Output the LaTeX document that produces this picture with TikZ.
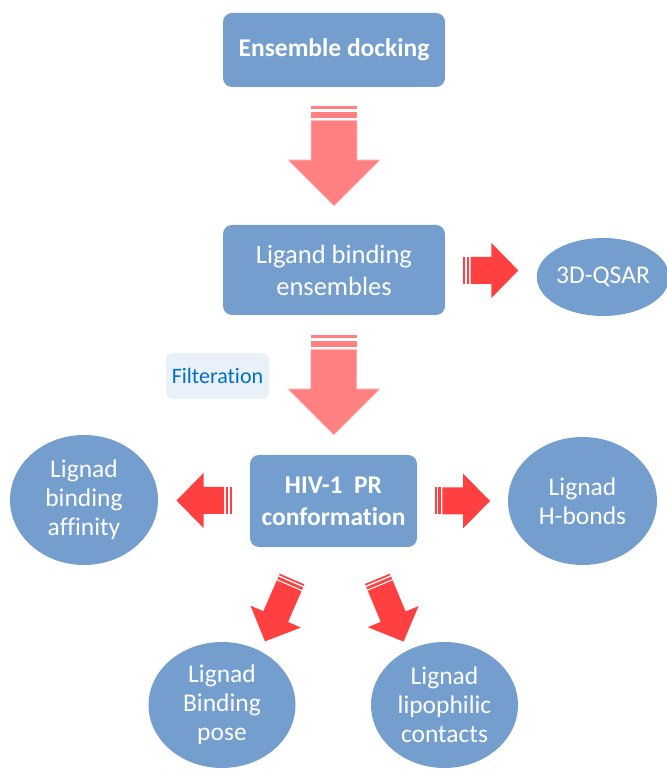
\documentclass[tikz,border=0pt]{standalone}
\usepackage{fontspec}
\setmainfont[Ligatures=NoCommon]{Carlito}
\usepackage{xcolor}
\usetikzlibrary{shapes, positioning, calc}

\definecolor{boxblue}{RGB}{116,158,206}
\definecolor{pinkred}{RGB}{255,128,128}
\definecolor{brightred}{RGB}{255,64,64}
\definecolor{filterfill}{RGB}{233,240,248}
\definecolor{filtertext}{RGB}{0,112,192}

\tikzset{
	stage/.style={rectangle, rounded corners=9pt, fill=boxblue, text=white,
		inner sep=0pt, align=center, font=\fontsize{26.5}{32}\selectfont},
	result/.style={ellipse, fill=boxblue, text=white,
		inner sep=0pt, align=center, font=\fontsize{25.5}{29}\selectfont},
	%% grande seta rosa, centrada na origem, apontando para +x
	pics/bigarrow/.style={code={
		\fill[pinkred] (-50,-23) rectangle (-47.3,23);
		\fill[pinkred] (-44,-23) rectangle (-38.3,23);
		\filldraw[fill=pinkred, draw=pinkred!45!white, line width=0.6pt]
			(-35.7,-23) -- (4,-23) -- (4,-46) -- (50,0) -- (4,46) -- (4,23)
			-- (-35.7,23) -- cycle;
	}},
	%% seta vermelha, meio comprimento #1
	pics/redarrow/.style={code={
		\fill[brightred] (-#1,-13.5) rectangle ({-#1+1.7},13.5);
		\fill[brightred] ({-#1+3.3},-13.5) rectangle ({-#1+6},13.5);
		\fill[brightred]
			({-#1+7.3},-13.5) -- ({#1-27},-13.5) -- ({#1-27},-27.5) -- (#1,0)
			-- ({#1-27},27.5) -- ({#1-27},13.5) -- ({-#1+7.3},13.5) -- cycle;
	}},
}

\begin{document}
\begin{tikzpicture}[x=1pt, y=1pt]
				\useasboundingbox (0,0) rectangle (667,769);
				
				%% Etapas
				\node [stage, minimum width=222, minimum height=74,
					font=\fontsize{25.5}{32}\selectfont] (docking) at (334,719)
				{\textbf{Ensemble docking}};
				
				\node [stage, minimum width=222, minimum height=90] (ensembles) at (334,499)
				{Ligand binding\\ensembles};
				
				\node [stage, minimum width=167, minimum height=92,
					font=\fontsize{25.5}{32}\selectfont] (conf) at (333.5,268)
				{\textbf{HIV-1~~PR}\\\textbf{conformation}};
				
				\node [rectangle, rounded corners=7pt, fill=filterfill, text=filtertext,
					minimum width=103, minimum height=46, inner sep=0pt,
					font=\fontsize{22}{26}\selectfont] (filter) at (217.5,393) {Filteration};
				
				%% Resultados
				\node [result, minimum width=130, minimum height=78] (qsar) at (603,492) {3D-QSAR};
				
				\node [result, minimum width=148, minimum height=130] (affinity) at (84,269)
				{Lignad\\binding\\affinity};
				
				\node [result, minimum width=149, minimum height=128] (hbonds) at (582.5,268)
				{Lignad\\H-bonds};
				
				\node [result, minimum width=147, minimum height=126] (pose) at (222,64)
				{Lignad\\Binding\\pose};
				
				\node [result, minimum width=147, minimum height=126] (contacts) at (444.5,64)
				{Lignad\\lipophilic\\contacts};
				
				%% Setas grandes
				\pic [rotate=-90] at ($(docking.south)!0.5!(ensembles.north)$) {bigarrow};
				\pic [rotate=-90] at ($(ensembles.south)!0.5!(conf.north)$) {bigarrow};
				
				%% Setas vermelhas
				\pic at ($(ensembles.east)!0.5!(qsar.west)+(0,3)$) {redarrow=27.5};
				\pic [rotate=180] at ($(conf.west)!0.5!(affinity.east)$) {redarrow=27.5};
				\pic at ($(conf.east)!0.5!(hbonds.west)$) {redarrow=27.5};
				\pic [rotate=246.5] at ($(conf.south)+(-55,-63)$) {redarrow=34};
				\pic [rotate=-67.4] at ($(conf.south)+(57,-63)$) {redarrow=34};
			\end{tikzpicture}
\end{document}
